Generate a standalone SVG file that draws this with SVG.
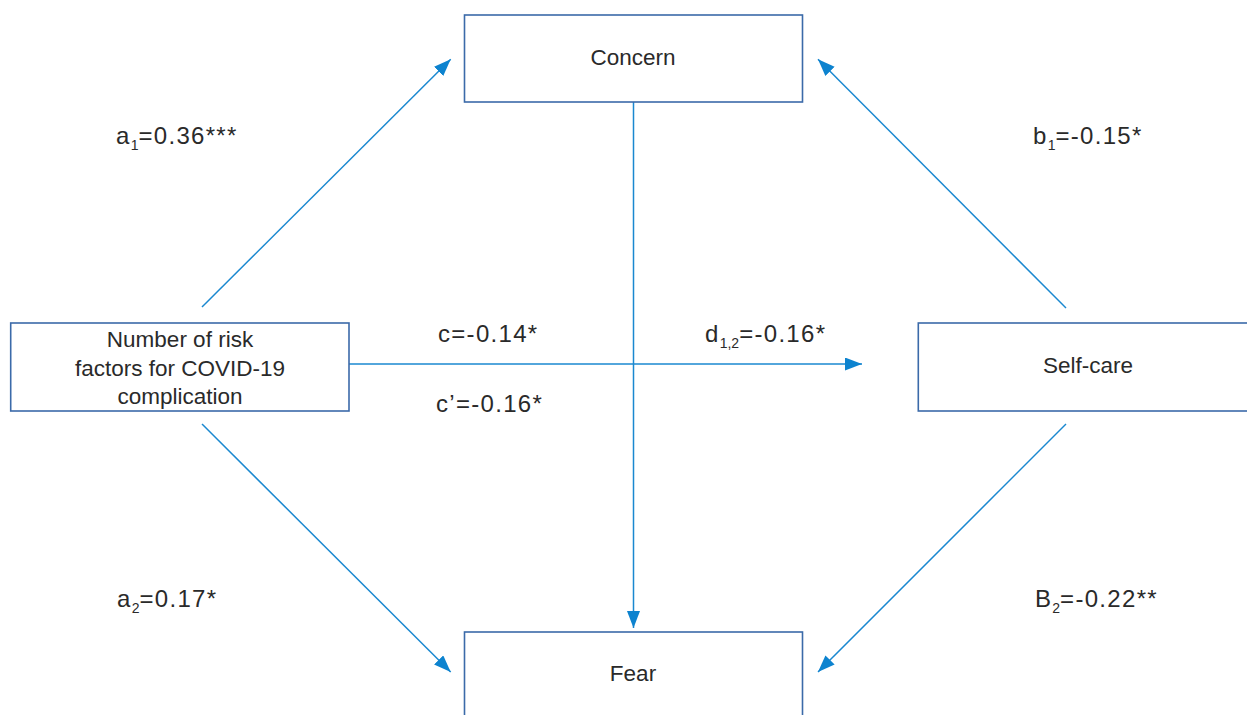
<svg xmlns="http://www.w3.org/2000/svg" width="1247" height="715" viewBox="0 0 1247 715">
<style>
.box{fill:#fff;stroke:#3b6aa9;stroke-width:1.6}
.conn{stroke:#1a88d0;stroke-width:1.5;fill:none}
.nt{font-family:"Liberation Sans",Arial,sans-serif;font-size:22.5px;fill:#2a2a2a;text-anchor:middle}
.lb{font-family:"Liberation Sans",Arial,sans-serif;font-size:24px;fill:#2a2a2a;letter-spacing:1.3px}
.sub{font-size:14px;letter-spacing:0}
</style>
<defs>
<marker id="arr" markerUnits="userSpaceOnUse" markerWidth="18" markerHeight="14" refX="17" refY="6.5" orient="auto">
<path d="M0,0 L17,6.5 L0,13 z" fill="#0d83cf"/>
</marker>
</defs>
<rect width="1247" height="715" fill="#fff"/>
<g id="connectors">
<line class="conn" x1="202" y1="307" x2="450.7" y2="59.3" marker-end="url(#arr)"/>
<line class="conn" x1="202" y1="424" x2="450.7" y2="672" marker-end="url(#arr)"/>
<line class="conn" x1="349" y1="364" x2="862" y2="364" marker-end="url(#arr)"/>
<line class="conn" x1="633.5" y1="102" x2="633.5" y2="628" marker-end="url(#arr)"/>
<line class="conn" x1="1066" y1="308" x2="818" y2="59.3" marker-end="url(#arr)"/>
<line class="conn" x1="1066" y1="424" x2="818" y2="672" marker-end="url(#arr)"/>
</g>
<g id="concern">
<rect class="box" x="464.5" y="15" width="338" height="87"/>
<text class="nt" x="633" y="65">Concern</text>
</g>
<g id="fear">
<rect class="box" x="464.5" y="632" width="338" height="100"/>
<text class="nt" x="633" y="681">Fear</text>
</g>
<g id="risk">
<rect class="box" x="10.7" y="323" width="338.3" height="88"/>
<text class="nt" x="180" y="347">Number of risk</text>
<text class="nt" x="180" y="376">factors for COVID-19</text>
<text class="nt" x="180" y="404">complication</text>
</g>
<g id="selfcare">
<rect class="box" x="918.3" y="323" width="340" height="88"/>
<text class="nt" x="1088" y="373">Self-care</text>
</g>
<g id="labels">
<text class="lb" x="116" y="144">a<tspan class="sub" dy="6">1</tspan><tspan dy="-6">=0.36***</tspan></text>
<text class="lb" x="1033" y="144">b<tspan class="sub" dy="6">1</tspan><tspan dy="-6">=-0.15*</tspan></text>
<text class="lb" x="438" y="342">c=-0.14*</text>
<text class="lb" x="436" y="412">c’=-0.16*</text>
<text class="lb" x="705" y="342">d<tspan class="sub" dy="6">1,2</tspan><tspan dy="-6">=-0.16*</tspan></text>
<text class="lb" x="117" y="607">a<tspan class="sub" dy="6">2</tspan><tspan dy="-6">=0.17*</tspan></text>
<text class="lb" x="1035" y="607">B<tspan class="sub" dy="6">2</tspan><tspan dy="-6">=-0.22**</tspan></text>
</g>
</svg>
